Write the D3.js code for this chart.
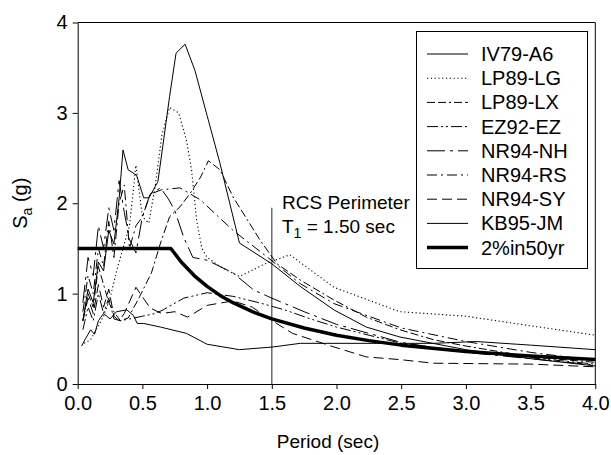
<!DOCTYPE html>
<html>
<head>
<meta charset="utf-8">
<script src="https://cdn.jsdelivr.net/npm/d3@7"></script>
<style>
body { margin: 0; background: #fff; }
text { font-family: Arial, "Liberation Sans", sans-serif; fill: #000; }
</style>
</head>
<body>
<svg id="svg1" width="611" height="455"></svg>
<script>
// periods (sec) and spectral accelerations (g)
var iv79_T  = [0.04,0.08,0.12,0.16,0.2,0.24,0.28,0.32,0.35,0.39,0.455,0.51,0.55,0.62,0.71,0.76,0.83,0.906,1.0,1.1,1.25,1.5,1.72,1.98,2.23,2.49,3.0,3.5,4.0];
var iv79_Sa = [0.7,1.05,0.9,1.35,1.25,1.7,1.55,2.05,2.59,2.37,2.31,2.06,2.06,2.24,3.18,3.66,3.76,3.47,2.97,2.44,1.56,1.33,1.08,0.82,0.63,0.52,0.38,0.28,0.2];

var lp89lg_T  = [0.05,0.1,0.15,0.2,0.25,0.3,0.35,0.4,0.45,0.5,0.55,0.6,0.65,0.71,0.78,0.84,0.88,0.92,0.96,1.0,1.1,1.25,1.45,1.64,1.98,2.49,3.0,3.52,4.0];
var lp89lg_Sa = [0.45,0.49,0.62,0.75,0.95,1.25,1.5,1.75,2.42,1.85,1.78,2.2,2.75,3.06,3.0,2.7,2.37,1.8,1.5,1.4,1.3,1.19,1.33,1.43,1.07,0.8,0.75,0.64,0.54];

var lp89lx_T  = [0.04,0.08,0.12,0.16,0.2,0.24,0.28,0.33,0.39,0.48,0.57,0.64,0.71,0.79,0.87,0.95,1.01,1.1,1.2,1.41,1.54,1.72,1.98,2.23,2.49,2.75,3.0,3.5,4.0];
var lp89lx_Sa = [0.7,1.0,0.85,1.3,1.1,0.9,0.8,0.7,0.73,0.97,1.23,1.56,1.85,1.96,2.11,2.29,2.47,2.37,2.07,1.59,1.33,1.15,0.93,0.74,0.6,0.49,0.42,0.3,0.24];

var ez92_T  = [0.04,0.08,0.12,0.16,0.2,0.24,0.28,0.33,0.4,0.5,0.6,0.66,0.82,1.0,1.2,1.4,1.6,1.8,2.0,2.5,3.0,3.5,4.0];
var ez92_Sa = [0.6,0.85,0.7,1.0,0.78,0.95,0.72,0.7,0.72,0.75,0.78,0.82,0.95,1.01,0.97,0.9,0.82,0.72,0.63,0.45,0.36,0.29,0.22];

var nr94nh_T  = [0.04,0.08,0.12,0.16,0.2,0.24,0.28,0.32,0.36,0.4,0.45,0.5,0.56,0.64,0.7,0.75,0.82,0.89,1.0,1.2,1.36,1.5,1.75,2.0,2.5,3.0,3.5,4.0];
var nr94nh_Sa = [0.9,1.4,1.2,1.75,1.5,1.95,1.7,2.25,1.9,1.6,1.45,1.85,2.1,2.17,2.05,1.92,1.62,1.4,1.37,1.23,1.04,0.95,0.8,0.66,0.46,0.35,0.28,0.21];

var nr94rs_T  = [0.04,0.08,0.12,0.16,0.2,0.24,0.28,0.32,0.36,0.4,0.45,0.5,0.56,0.65,0.79,0.946,1.2,1.46,1.72,1.98,2.5,3.0,3.5,4.0];
var nr94rs_Sa = [0.8,1.2,1.0,1.5,1.3,1.8,1.4,2.0,2.2,1.5,1.75,1.85,2.1,2.15,2.17,2.04,1.7,1.41,1.11,0.89,0.62,0.47,0.35,0.26];

var nr94sy_T  = [0.04,0.08,0.12,0.16,0.2,0.24,0.28,0.32,0.36,0.45,0.56,0.65,0.75,0.85,1.0,1.2,1.35,1.46,1.66,1.98,2.23,2.49,2.75,3.5,4.0];
var nr94sy_Sa = [0.7,0.95,0.78,1.1,0.85,1.05,0.75,0.7,0.78,1.07,0.84,0.78,0.8,0.74,0.87,0.92,0.85,0.74,0.56,0.41,0.3,0.27,0.23,0.22,0.19];

var kb95_T  = [0.03,0.06,0.1,0.13,0.16,0.2,0.25,0.3,0.38,0.43,0.46,0.51,0.64,0.84,1.0,1.25,1.51,1.72,2.75,3.08,3.5,4.0];
var kb95_Sa = [0.42,0.5,0.6,0.55,0.7,0.78,0.72,0.8,0.82,0.76,0.67,0.67,0.63,0.56,0.44,0.38,0.41,0.45,0.45,0.47,0.43,0.38];

var design_T  = [0.0,0.72,0.8,0.9,1.0,1.1,1.2,1.35,1.5,1.75,2.0,2.25,2.5,3.0,3.5,4.0];
var design_Sa = [1.5,1.5,1.35,1.2,1.08,0.98,0.9,0.8,0.72,0.62,0.54,0.48,0.43,0.36,0.31,0.27];

var names = ['IV79-A6','LP89-LG','LP89-LX','EZ92-EZ','NR94-NH','NR94-RS','NR94-SY','KB95-JM','2%in50yr'];
var periods = [iv79_T, lp89lg_T, lp89lx_T, ez92_T, nr94nh_T, nr94rs_T, nr94sy_T, kb95_T, design_T];
var accels = [iv79_Sa, lp89lg_Sa, lp89lx_Sa, ez92_Sa, nr94nh_Sa, nr94rs_Sa, nr94sy_Sa, kb95_Sa, design_Sa];
var dashes = [null, '1.2,2.6', '8,3,8,3,2,3', '11,3,2,3,2,3', '18,5,3,5', '10,4,2,4', '10,5', null, null];
var widths = [1, 1.1, 1, 1, 1, 1, 1, 1, 3.5];

var x_ticks = [0,0.5,1,1.5,2,2.5,3,3.5,4];
var y_ticks = [0,1,2,3,4];
var perim_T = 1.5, perim_top = 1.95;

var svg1 = d3.select('#svg1');
var pad_l = 77.7, pad_r = 595.3, pad_t = 22.5, pad_b = 384;

var x = d3.scaleLinear().domain([0,4]).range([pad_l,pad_r]);
var y = d3.scaleLinear().domain([0,4]).range([pad_b,pad_t]);

var series = names.map((n,i) => ({name:n, dash:dashes[i], w:widths[i],
	pts: periods[i].map((t,j) => [t, accels[i][j]])}));

var line = d3.line().x(d => x(d[0])).y(d => y(d[1]));

// frame top/right
svg1.append('path').attr('d', 'M'+pad_l+','+pad_t+'H'+pad_r+'V'+pad_b)
	.attr('fill','none').attr('stroke','#000').attr('stroke-width',1);

// period marker
svg1.append('line').attr('x1', x(perim_T)).attr('x2', x(perim_T))
	.attr('y1', y(perim_top)).attr('y2', y(0))
	.attr('stroke','#555').attr('stroke-width',1.3);

svg1.append('g').selectAll('path').data(series).enter().append('path')
	.attr('d', d => line(d.pts))
	.attr('fill','none').attr('stroke','#000')
	.attr('stroke-width', d => d.w)
	.attr('stroke-dasharray', d => d.dash)
	.attr('stroke-linejoin','round');

var xa = svg1.append('g').attr('transform','translate(0,'+pad_b+')')
	.call(d3.axisBottom(x).tickValues(x_ticks).tickFormat(d3.format('.1f')).tickSize(5).tickSizeOuter(0));
var ya = svg1.append('g').attr('transform','translate('+pad_l+',0)')
	.call(d3.axisLeft(y).tickValues(y_ticks).tickFormat(d3.format('d')).tickSize(5).tickSizeOuter(0));
[xa, ya].forEach(a => {
	a.attr('font-family', null).attr('font-size', null);
	a.selectAll('text').style('font-size','20px').attr('fill','#000');
	a.selectAll('line,path').attr('stroke','#000');
});
xa.selectAll('text').attr('y', 12);
ya.selectAll('text').attr('x', -10);

// axis titles
svg1.append('text').attr('x', 328).attr('y', 448)
	.attr('text-anchor','middle').style('font-size','19px').text('Period (sec)');
var yt = svg1.append('text').attr('transform','translate(27,'+((pad_t+pad_b)/2)+') rotate(-90)')
	.attr('text-anchor','middle').style('font-size','20px');
yt.append('tspan').text('S');
yt.append('tspan').attr('dy',5).style('font-size','14px').text('a');
yt.append('tspan').attr('dy',-5).text(' (g)');

// annotation
svg1.append('text').attr('x',282).attr('y',209).style('font-size','19px').text('RCS Perimeter');
var t1 = svg1.append('text').attr('x',282).attr('y',233).style('font-size','19px');
t1.append('tspan').text('T');
t1.append('tspan').attr('dy',5).style('font-size','14px').text('1');
t1.append('tspan').attr('dy',-5).text(' = 1.50 sec');

// legend
var lg = svg1.append('g');
lg.append('rect').attr('x',416.5).attr('y',31.5).attr('width',171).attr('height',237)
	.attr('fill','#fff').attr('stroke','#000').attr('stroke-width',1);
var rows = lg.selectAll('g.row').data(series).enter().append('g')
	.attr('transform', (d,i) => 'translate(0,'+(54+24.2*i)+')');
rows.append('line').attr('x1',427).attr('x2',468).attr('y1',0).attr('y2',0)
	.attr('stroke','#000').attr('stroke-width', d => d.w)
	.attr('stroke-dasharray', d => d.dash);
rows.append('text').attr('x',481).attr('y',7).style('font-size','20px').text(d => d.name);
</script>
</body>
</html>
